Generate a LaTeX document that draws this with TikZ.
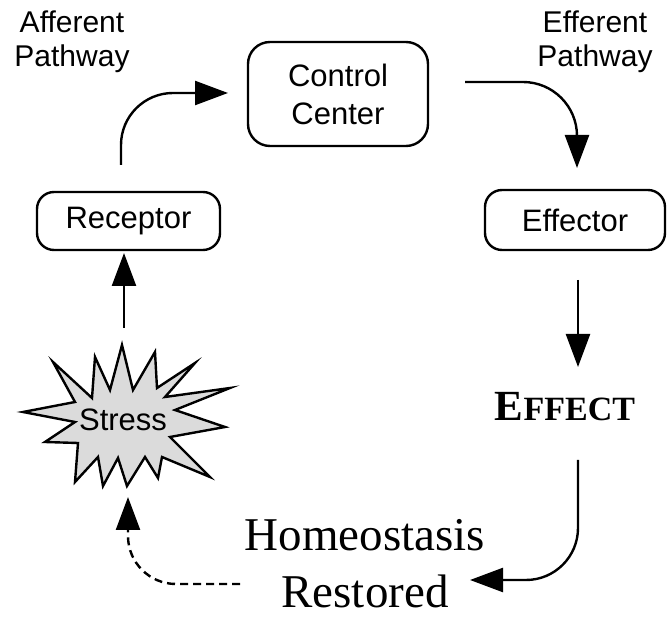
\documentclass[tikz,border=0pt]{standalone}
\usepackage{fontspec}
\setmainfont{Liberation Serif}
\setsansfont{Liberation Sans}
\usetikzlibrary{arrows.meta,calc}
\begin{document}
\begin{tikzpicture}[x=1pt,y=-1pt, line width=2.4pt,
  box/.style={draw, rounded corners=17pt, font=\sffamily\fontsize{31}{38}\selectfont, align=center, inner sep=0pt},
  lab/.style={font=\sffamily\fontsize{30}{34}\selectfont, align=center, inner sep=0pt},
  arr/.style={-{Triangle[length=33pt,width=24pt]}, line width=2.4pt},
  dasharr/.style={arr, dash pattern=on 8pt off 5pt}]
\useasboundingbox (0,0) rectangle (670,617);
% boxes
\node[box, minimum width=180pt, minimum height=104pt, rounded corners=22pt] (cc) at (338,94) {Control\\Center};
\node[box, minimum width=183pt, minimum height=58pt] (rec) at (128.5,221) {Receptor};
\node[box, minimum width=180pt, minimum height=60pt] (eff) at (575,220) {Effector};
% labels
\node[lab] (aff) at (72,42) {Afferent\\Pathway};
\node[lab] (efp) at (595,42) {Efferent\\Pathway};
\node[inner sep=0pt, font=\bfseries] (effect) at (565,407) {\fontsize{43}{43}\selectfont E\fontsize{34}{34}\selectfont FFECT};
\node[inner sep=0pt, align=center, font=\fontsize{47}{57}\selectfont] (homeo) at (365,564) {Homeostasis\\Restored};
% stress star
\filldraw[fill=black!14, line width=2.4pt, line join=miter, miter limit=20]
  (23,412) -- (75,402) -- (53,362) -- (92,398) -- (95,357) -- (110,390) -- (122,345)
  -- (133,390) -- (155,352) -- (157,388) -- (195,363) -- (165,397) -- (230,388)
  -- (175,410) -- (225,427) -- (170,437) -- (210,477) -- (162,457) -- (158,478)
  -- (145,457) -- (127,486) -- (118,458) -- (103,486) -- (98,457) -- (75,482)
  -- (78,443) -- (45,442) -- (75,422) -- cycle;
\node[inner sep=0pt, font=\sffamily\fontsize{31}{36}\selectfont] (stress) at (123,420) {Stress};
% connector ends
\coordinate (a1s) at (121,165); \coordinate (a1e) at (228,93);
\coordinate (a2s) at (465,82);  \coordinate (a2e) at (577,168);
\coordinate (a3s) at (578,280); \coordinate (a3e) at (578,367);
\coordinate (a4s) at (578,460); \coordinate (a4e) at (470,580);
\coordinate (a5s) at (240,584); \coordinate (a5e) at (128,497);
\coordinate (a6s) at (124,328); \coordinate (a6e) at (124,253);
% connectors
\draw[arr, rounded corners=52pt] (a1s) |- (a1e);
\draw[arr, rounded corners=54pt] (a2s) -| (a2e);
\draw[arr] (a3s) -- (a3e);
\draw[arr, rounded corners=52pt] (a4s) |- (a4e);
\draw[dasharr, rounded corners=48pt] (a5s) -| (a5e);
\draw[arr] (a6s) -- (a6e);
\end{tikzpicture}
\end{document}
